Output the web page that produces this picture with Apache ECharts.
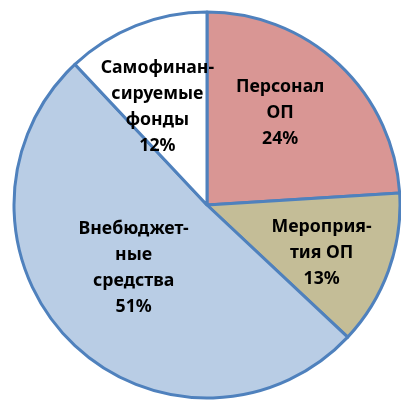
<!DOCTYPE html>
<html><head><meta charset="utf-8">
<script src="https://cdn.jsdelivr.net/npm/echarts@6/dist/echarts.min.js"></script>
<style>html,body{margin:0;padding:0;background:#fff}#c{width:401px;height:400px}</style>
</head><body><div id="c"></div>
<script>
const categories = ['Персонал\nОП', 'Мероприя-\nтия ОП', 'Внебюджет-\nные\nсредства', 'Самофинан-\nсируемые\nфонды'];
const values = [24, 13, 51, 12];
const colors = ['#D99694', '#C4BD97', '#B9CDE5', '#FFFFFF'];
const labelShift = [[5, -20], [21, 14], [-3, -7], [-13, -6]];

const chart = echarts.init(document.getElementById('c'));
chart.setOption({
  animation: false,
  series: [{
    type: 'pie',
    center: [207, 205],
    radius: 193,
    startAngle: 90,
    clockwise: true,
    avoidLabelOverlap: false,
    data: categories.map((n, i) => ({ name: n, value: values[i], itemStyle: { color: colors[i] } })),
    itemStyle: { borderColor: '#4F81BD', borderWidth: 3 },
    label: {
      show: true,
      position: 'inside',
      formatter: '{b}\n{d}%',
      color: '#000',
      fontFamily: 'Noto Sans',
      fontWeight: 'bold',
      fontSize: 17.7,
      lineHeight: 26,
      align: 'center'
    },
    labelLine: { show: false },
    labelLayout: function (p) {
      const s = labelShift[p.dataIndex];
      return { dx: s[0], dy: s[1] };
    },
    emphasis: { disabled: true }
  }]
});
</script></body></html>
